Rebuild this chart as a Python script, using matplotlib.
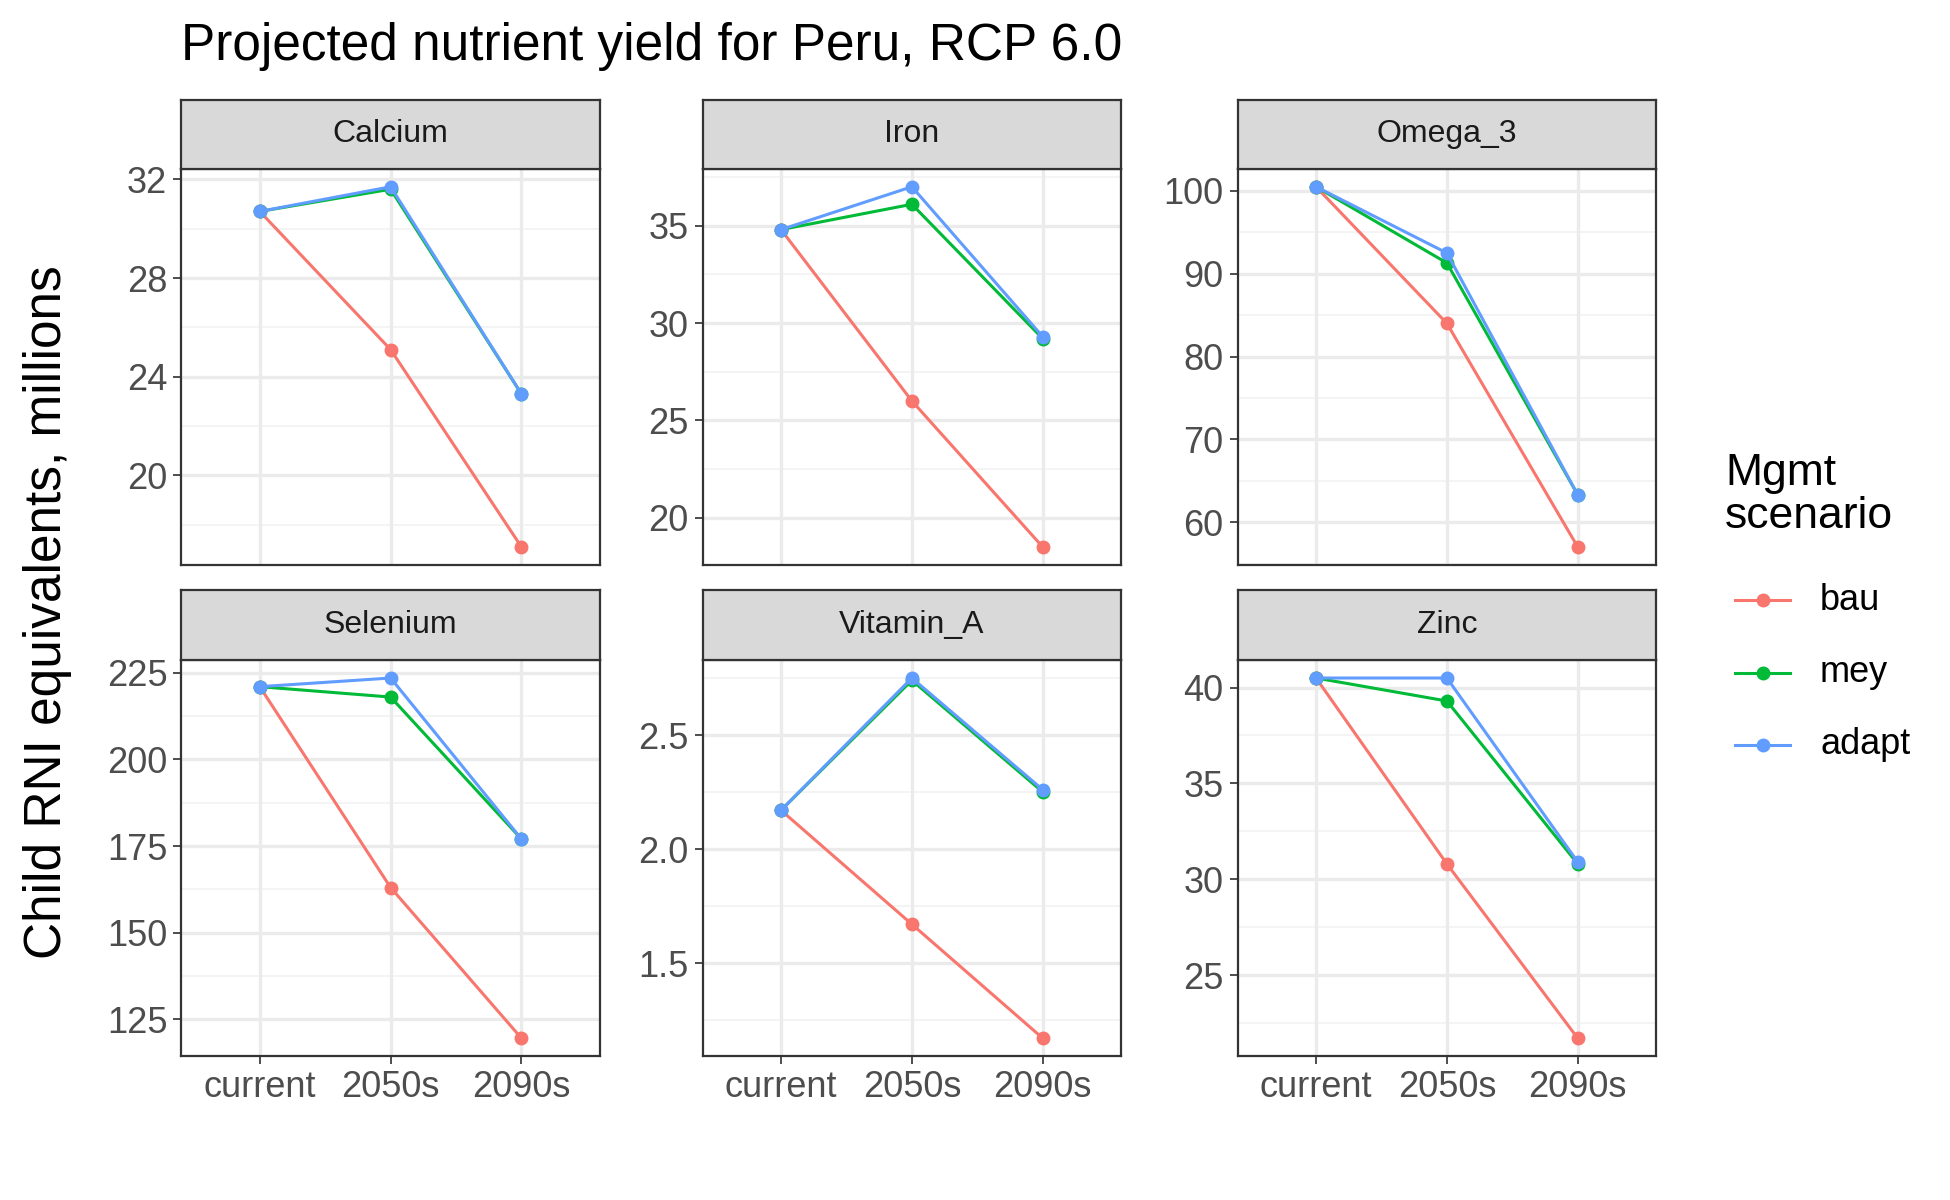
import numpy as np
import matplotlib
matplotlib.use("Agg")
import matplotlib.pyplot as plt

plt.rcParams['font.family'] = ['Liberation Sans', 'DejaVu Sans']

periods = ["current", "2050s", "2090s"]
nutrients = ["Calcium", "Iron", "Omega_3", "Selenium", "Vitamin_A", "Zinc"]
bau = {"Calcium": [30.7, 25.1, 17.1], "Iron": [34.8, 26.0, 18.5],
       "Omega_3": [100.5, 84.0, 57.0], "Selenium": [221, 163, 119.5],
       "Vitamin_A": [2.17, 1.67, 1.17], "Zinc": [40.5, 30.8, 21.7]}
mey = {"Calcium": [30.7, 31.6, 23.3], "Iron": [34.8, 36.1, 29.2],
       "Omega_3": [100.5, 91.3, 63.3], "Selenium": [221, 218, 177],
       "Vitamin_A": [2.17, 2.74, 2.25], "Zinc": [40.5, 39.3, 30.8]}
adapt = {"Calcium": [30.7, 31.7, 23.3], "Iron": [34.8, 37.0, 29.3],
         "Omega_3": [100.5, 92.5, 63.3], "Selenium": [221, 223.5, 177],
         "Vitamin_A": [2.17, 2.75, 2.26], "Zinc": [40.5, 40.5, 30.9]}
yticks = {"Calcium": [20, 24, 28, 32], "Iron": [20, 25, 30, 35],
          "Omega_3": [60, 70, 80, 90, 100], "Selenium": [125, 150, 175, 200, 225],
          "Vitamin_A": [1.5, 2.0, 2.5], "Zinc": [25, 30, 35, 40]}
ylabels = {"Vitamin_A": ["1.5", "2.0", "2.5"]}
series = [("bau", bau, "#F8766D"), ("mey", mey, "#00BA38"), ("adapt", adapt, "#619CFF")]

W, H = 1560, 960
fig = plt.figure(figsize=(19.5, 12), dpi=100)
cols = [145, 562, 990]
pw = 335
rows = [(80, 135, 452), (472, 528, 845)]

for i, n in enumerate(nutrients):
    r, c = divmod(i, 3)
    x0 = cols[c]
    st, pt, pb = rows[r]
    ax = fig.add_axes([x0 / W, 1 - pb / H, pw / W, (pb - pt) / H])
    sa = fig.add_axes([x0 / W, 1 - pt / H, pw / W, (pt - st) / H])
    sa.set_facecolor("#D9D9D9")
    sa.set_xticks([]); sa.set_yticks([])
    for s in sa.spines.values():
        s.set_color("#333333"); s.set_linewidth(1.6)
    sa.text(0.5, 0.5, n, ha="center", va="center", fontsize=23, color="#1A1A1A")

    allv = bau[n] + mey[n] + adapt[n]
    lo, hi = min(allv), max(allv)
    pad = (hi - lo) * 0.05
    ax.set_ylim(lo - pad, hi + pad)
    ax.set_xlim(-0.6, 2.6)
    t = yticks[n]
    step = t[1] - t[0]
    minors = [v - step / 2 for v in t] + [t[-1] + step / 2]
    for m in minors:
        ax.axhline(m, color="#F2F2F2", lw=1.2, zorder=0)
    for v in t:
        ax.axhline(v, color="#EBEBEB", lw=2.4, zorder=0)
    for xv in range(3):
        ax.axvline(xv, color="#EBEBEB", lw=2.4, zorder=0)
    for name, d, col in series:
        ax.plot(range(3), d[n], color=col, lw=2.2, marker="o", ms=9, zorder=3)
    ax.set_yticks(t)
    ax.set_yticklabels(ylabels.get(n, [str(v) for v in t]))
    ax.set_xticks(range(3))
    ax.set_xticklabels(periods if r == 1 else [])
    ax.tick_params(labelsize=26, colors="#4D4D4D", length=6, width=1.4, pad=4)
    ax.tick_params(axis="x", length=6 if r == 1 else 0)
    for s in ax.spines.values():
        s.set_color("#333333"); s.set_linewidth(1.6)

fig.text(145 / W, 1 - 37 / H, "Projected nutrient yield for Peru, RCP 6.0",
         fontsize=37, va="center", ha="left")
fig.text(38 / W, 1 - 490 / H, "Child RNI equivalents, millions", fontsize=37,
         rotation=90, va="center", ha="center")

fig.text(1380 / W, 1 - 396 / H, "Mgmt\nscenario", fontsize=32, va="center", ha="left",
         linespacing=1.05)
for k, (name, d, col) in enumerate(series):
    y = 1 - (480 + 58 * k) / H
    fig.add_artist(plt.Line2D([1388 / W, 1432 / W], [y, y], color=col, lw=2.2))
    fig.add_artist(plt.Line2D([1410 / W], [y], color=col, marker="o", ms=9))
    fig.text(1456 / W, y, name, fontsize=26, va="center", ha="left")

fig.savefig("out.png", dpi=100)
